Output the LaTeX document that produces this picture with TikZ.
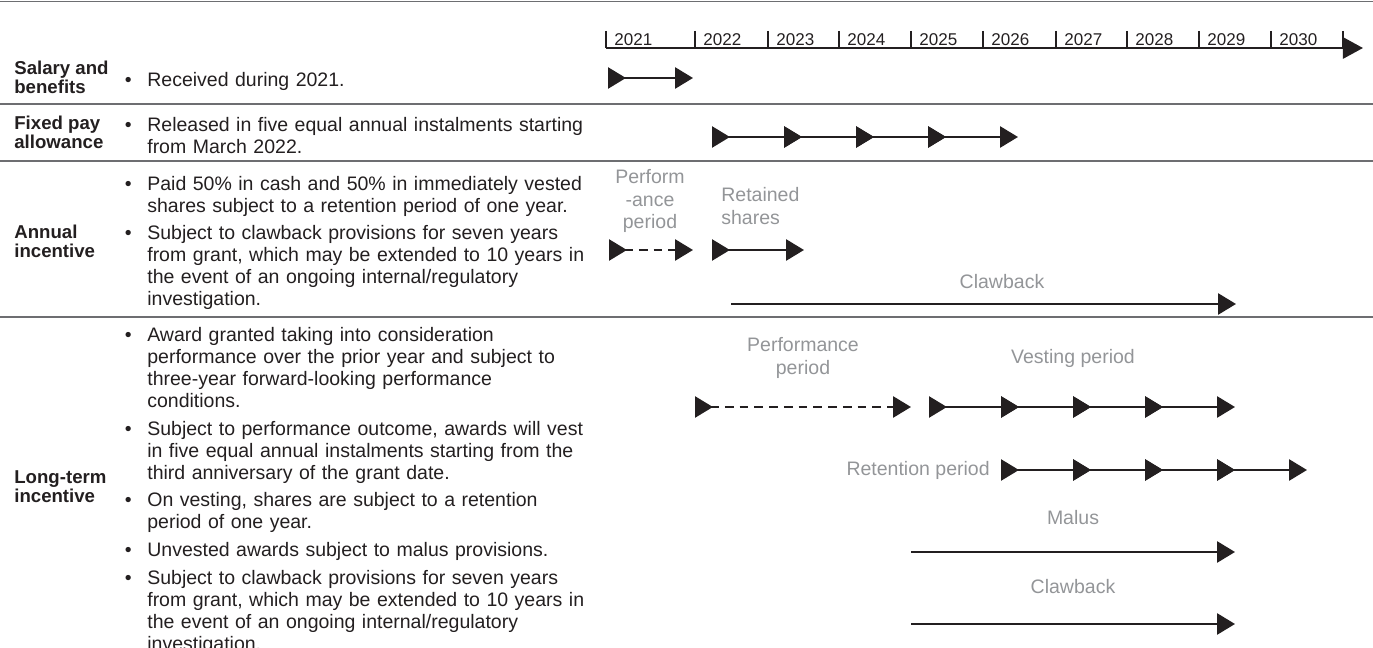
\documentclass[tikz,border=0pt]{standalone}
\usepackage{fontspec}
\setmainfont{Liberation Sans}
\usepackage{xcolor}
\usetikzlibrary{arrows.meta}

\definecolor{ink}{HTML}{231F20}
\definecolor{rulegray}{HTML}{6D6E71}
\definecolor{notegray}{HTML}{939598}

% bullet list, line breaks as in the source
\newcommand{\points}[1]{%
    \begin{list}{\textbullet}{%
        \setlength{\leftmargin}{10.8pt}%
        \setlength{\labelwidth}{5pt}%
        \setlength{\labelsep}{8.9pt}%
        \setlength{\itemsep}{3.4pt}%
        \setlength{\parsep}{0pt}%
        \setlength{\topsep}{0pt}%
        \setlength{\partopsep}{0pt}%
    }%
    #1%
    \end{list}%
}

\begin{document}
\begin{tikzpicture}[
    x=0.02cm,
    y=-0.02cm,
    >={Triangle[length=10.2pt, width=12pt]},
    rowhead/.style={
        anchor=west,
        align=left,
        inner sep=0pt,
        text=ink,
        font=\fontsize{10.6}{10.8}\selectfont\bfseries
    },
    rowtext/.style={
        anchor=west,
        text width=10.4cm,
        align=left,
        inner sep=0pt,
        text=ink,
        font=\fontsize{11.1}{12.5}\selectfont
    },
    note/.style={
        inner sep=0pt,
        text=notegray,
        font=\fontsize{11.1}{12.9}\selectfont
    },
    year/.style={
        anchor=base west,
        inner sep=0pt,
        text=ink,
        font=\fontsize{9.7}{11}\selectfont
    },
    divider/.style={
        draw=rulegray,
        line width=1.1pt
    },
    span/.style={
        draw=ink,
        line width=1.3pt,
        ->
    },
    leg/.style={
        draw=ink,
        line width=1.3pt,
        {Triangle[reversed, length=10.2pt, width=12pt]}->
    },
    perfdash/.style={
        dash pattern=on 5pt off 3.4pt
    }
]

\useasboundingbox (0,0) rectangle (1373,648);

% Top rule
\draw[
    divider
] (0,1.5) -- (1373,1.5);


% Time axis
\draw[
    ink,
    line width=1.5pt,
    -{Triangle[length=11.4pt, width=12pt]}
] (606,48) -- (1363,48);

\foreach \x/\yr in {606/2021, 695/2022, 768/2023, 839/2024, 911/2025,
                    983/2026, 1056/2027, 1127/2028, 1199/2029, 1271/2030} {
    \draw[
        ink,
        line width=1.1pt
    ] (\x,31) -- (\x,48);
    \node[
        year
    ] (y\yr) at (\x+8,45.5) {\yr};
}

\draw[
    ink,
    line width=1.1pt
] (1343,31) -- (1343,48);


% Row 1: salary and benefits
\node[
    rowhead
] (salary) at (14,77) {
    Salary and\\
    benefits
};

\node[
    rowtext
] (salarytext) at (128,78) {\points{
    \item Received during 2021.
}};

\draw[
    leg
] (608,78) -- (693,78);

\draw[
    divider
] (0,104) -- (1373,104);


% Row 2: fixed pay allowance
\node[
    rowhead
] (fixed) at (14,132) {
    Fixed pay\\
    allowance
};

\node[
    rowtext
] (fixedtext) at (128,132) {\points{
    \item Released in five equal annual instalments starting\\
    from March 2022.
}};

\foreach \x in {712,784,856,928} {
    \draw[
        leg
    ] (\x,137) -- (\x+90,137);
}

\draw[
    divider
] (0,161) -- (1373,161);


% Row 3: annual incentive
\node[
    rowhead
] (annual) at (14,241) {
    Annual\\
    incentive
};

\node[
    rowtext
] (annualtext) at (128,239) {\points{
    \item Paid 50\% in cash and 50\% in immediately vested\\
    shares subject to a retention period of one year.
    \item Subject to clawback provisions for seven years\\
    from grant, which may be extended to 10 years in\\
    the event of an ongoing internal/regulatory\\
    investigation.
}};

\node[
    note,
    align=center
] (aperf) at (650,201) {
    Perform\\
    -ance\\
    period
};

\node[
    note,
    align=left,
    anchor=west
] (aretain) at (721,206) {
    Retained\\
    shares
};

\node[
    note
] (aclaw) at (1002,282) {Clawback};

\draw[
    leg,
    perfdash
] (609,250) -- (693,250);

\draw[
    leg
] (712,250) -- (804,250);

\draw[
    span
] (731,304) -- (1236,304);

\draw[
    divider
] (0,317) -- (1373,317);


% Row 4: long-term incentive
\node[
    rowhead
] (lti) at (14,487) {
    Long-term\\
    incentive
};

\node[
    rowtext
] (ltitext) at (128,487) {\points{
    \item Award granted taking into consideration\\
    performance over the prior year and subject to\\
    three-year forward-looking performance\\
    conditions.
    \item Subject to performance outcome, awards will vest\\
    in five equal annual instalments starting from the\\
    third anniversary of the grant date.
    \item On vesting, shares are subject to a retention\\
    period of one year.
    \item Unvested awards subject to malus provisions.
    \item Subject to clawback provisions for seven years\\
    from grant, which may be extended to 10 years in\\
    the event of an ongoing internal/regulatory\\
    investigation.
}};

\node[
    note,
    align=center
] (lperf) at (803,358) {
    Performance\\
    period
};

\node[
    note
] (lvest) at (1073,358) {Vesting period};

\node[
    note,
    anchor=east
] (lretain) at (990,470) {Retention period};

\node[
    note
] (lmalus) at (1073,518) {Malus};

\node[
    note
] (lclaw) at (1073,587) {Clawback};

% performance, vesting and retention legs
\draw[
    leg,
    perfdash
] (695,407) -- (911,407);

\foreach \x in {929,1001,1073,1145} {
    \draw[
        leg
    ] (\x,407) -- (\x+90,407);
}

\foreach \x in {1001,1073,1145,1217} {
    \draw[
        leg
    ] (\x,470) -- (\x+90,470);
}

\draw[
    span
] (911,552) -- (1235,552);

\draw[
    span
] (911,624) -- (1235,624);

\end{tikzpicture}
\end{document}
